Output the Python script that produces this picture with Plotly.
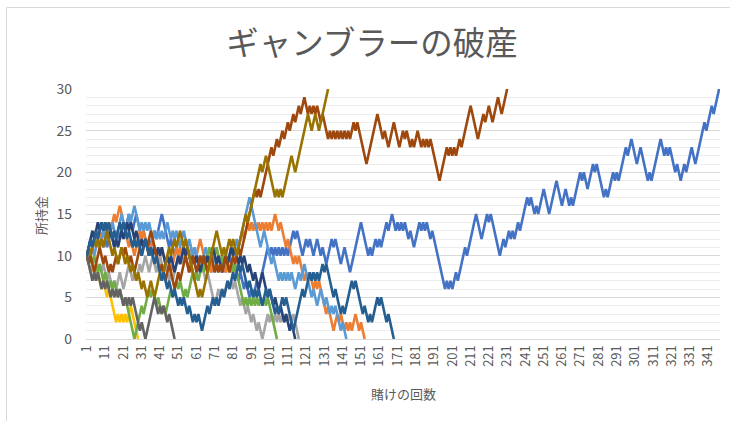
import plotly.graph_objects as go

# ---- data (money held after each bet) ----
blue = [10,11,12,11,12,13,12,13,12,11,
        12,11,12,13,12,11,12,13,12,13,
        14,13,14,15,14,13,14,15,14,13,
        12,13,12,11,12,11,12,13,12,13,
        14,15,14,13,12,11,12,11,10,11,
        10,9,10,11,10,9,8,9,8,7,
        8,9,8,9,10,9,8,9,8,9,
        8,9,10,9,8,9,8,9,10,9,
        8,9,8,7,8,7,6,7,6,5,
        6,5,6,7,6,7,8,9,10,11,
        10,11,10,11,10,11,10,11,10,11,
        10,11,12,13,12,13,12,11,10,11,
        12,11,12,11,10,11,12,11,10,11,
        10,9,10,11,12,11,12,11,10,9,
        10,11,10,9,8,9,10,11,12,13,
        14,13,12,11,10,11,10,11,12,11,
        12,11,12,13,14,13,14,15,14,13,
        14,13,14,13,14,13,12,13,12,11,
        12,13,14,13,14,13,14,13,12,13,
        12,11,10,9,8,7,6,7,6,7,
        6,7,8,7,8,9,10,11,10,11,
        12,13,14,15,14,13,12,13,14,15,
        14,15,14,13,12,11,10,11,12,11,
        12,13,12,13,12,13,14,13,14,15,
        16,17,16,17,16,15,16,15,16,17,
        18,17,16,15,16,17,18,19,18,17,
        16,17,18,17,16,17,16,17,18,19,
        20,19,20,19,18,19,20,21,20,21,
        20,19,18,17,18,17,18,19,20,19,
        20,19,20,21,22,23,22,23,24,23,
        22,21,22,23,22,21,20,19,20,19,
        20,21,22,23,24,23,22,23,22,23,
        22,21,20,21,20,19,20,21,20,21,
        22,23,22,21,22,23,24,25,26,25,
        26,27,28,27,28,29,30]

orange = [10,11,10,11,12,13,12,13,12,13,
          12,13,14,13,14,15,14,15,16,15,
          14,13,12,11,12,11,10,11,12,13,
          12,13,12,11,10,11,12,11,10,9,
          10,11,10,9,8,9,8,9,10,11,
          10,11,10,9,10,9,8,9,10,9,
          10,11,12,11,10,9,10,9,8,9,
          10,9,8,9,10,9,8,9,8,9,
          8,9,10,11,12,13,12,13,14,13,
          14,13,14,13,14,13,14,13,14,13,
          14,13,14,15,14,13,14,13,12,11,
          12,11,10,9,10,9,10,9,8,7,
          8,7,8,7,6,7,6,7,6,5,
          4,3,4,3,2,1,2,3,2,3,
          2,1,2,1,2,1,2,3,2,1,
          2,1,0]

gray = [10,9,8,9,8,7,8,9,8,9,
        8,7,8,7,6,7,6,7,8,7,
        6,7,8,9,8,7,8,7,8,9,
        8,9,10,9,8,9,10,9,8,9,
        10,9,8,9,8,7,8,7,8,9,
        10,9,10,9,10,11,10,11,10,11,
        10,9,10,9,8,7,8,7,6,5,
        4,5,6,5,6,5,6,7,6,7,
        6,7,6,5,4,5,4,3,4,3,
        2,3,2,1,2,1,0,1,2,3,
        2,3,2,3,2,3,2,3,2,3,
        2,3,2,3,2,1,0]

gold = [10,9,10,9,8,9,8,7,6,7,
        6,5,6,5,4,3,2,3,2,3,
        2,3,2,3,4,3,2,1,0]

lightblue = [10,11,12,11,10,11,12,11,12,13,
             12,13,12,13,14,13,12,13,14,15,
             14,13,14,15,14,15,16,15,14,13,
             14,13,14,13,14,13,12,13,12,13,
             12,13,12,13,14,13,12,13,12,13,
             12,11,12,13,12,11,12,11,10,11,
             10,9,10,9,10,11,10,9,10,9,
             10,9,8,9,10,9,10,9,10,11,
             10,11,12,11,12,13,14,15,16,17,
             16,15,14,13,12,11,12,13,12,11,
             10,9,10,9,8,7,8,7,8,7,
             8,7,8,7,6,7,8,7,8,9,
             8,7,6,5,6,5,4,5,6,5,
             4,5,4,3,4,3,4,3,2,1,
             2,1,0]

green = [10,9,10,9,10,9,8,9,8,7,
         8,7,6,7,6,7,6,5,6,5,
         4,5,4,3,2,1,0,1,2,3,
         4,3,4,5,6,5,6,5,4,5,
         4,3,4,3,4,5,6,5,6,7,
         6,7,6,5,6,5,6,7,8,7,
         8,7,8,9,8,9,10,11,10,11,
         10,11,10,9,10,9,10,9,8,9,
         8,9,8,7,6,5,4,5,4,5,
         4,5,4,5,4,5,4,5,4,5,
         4,3,2,1,0]

navy = [10,11,12,13,12,13,14,13,14,13,
        14,13,12,13,12,11,12,11,12,13,
        12,13,14,13,14,13,12,13,12,11,
        12,11,12,11,10,11,10,11,10,11,
        10,11,10,9,10,9,10,9,8,9,
        10,9,10,11,10,11,10,9,10,9,
        10,9,8,9,10,9,10,9,10,11,
        10,9,10,9,8,9,10,9,10,11,
        10,11,10,9,10,9,10,9,8,9,
        8,7,8,7,6,7,8,7,6,5,
        6,5,4,5,4,3,4,3,2,3,
        2,1,2,1,0]

brown = [10,9,10,9,8,9,10,11,10,9,
         10,9,8,9,8,9,10,9,10,11,
         10,11,10,9,10,9,8,9,10,11,
         10,11,12,11,12,13,12,11,10,9,
         8,9,8,7,8,9,8,7,6,7,
         8,7,8,9,10,9,8,9,10,9,
         8,9,10,9,10,9,8,9,10,9,
         8,9,8,9,8,9,10,9,8,9,
         10,9,10,11,10,11,12,13,14,15,
         16,17,18,17,18,17,18,19,20,21,
         22,23,22,23,24,23,24,25,24,25,
         26,25,26,27,26,27,28,27,28,29,
         28,27,28,27,28,27,28,27,26,27,
         26,25,24,25,24,25,24,25,24,25,
         24,25,24,25,24,25,26,25,26,25,
         24,23,22,21,22,23,24,25,26,27,
         26,25,24,25,24,23,24,25,26,25,
         24,23,24,25,24,25,24,23,24,23,
         24,25,24,23,24,23,24,23,24,23,
         22,21,20,19,20,21,22,23,22,23,
         22,23,22,23,24,23,24,25,26,27,
         28,27,26,25,24,25,26,27,26,27,
         28,27,26,27,28,29,28,27,28,29,
         30]

darkgray = [10,9,8,7,8,7,8,7,6,7,
            6,7,6,5,6,5,6,5,6,5,
            4,5,4,5,4,5,4,3,2,1,
            2,1,0,1,2,3,4,5,4,3,
            4,3,4,3,2,3,2,1,0]

olive = [10,11,10,11,12,11,12,11,12,11,
         12,13,12,11,10,11,10,9,10,11,
         10,9,10,9,8,9,8,7,8,7,
         6,7,6,5,6,7,6,5,6,7,
         8,7,8,9,10,11,10,11,12,11,
         12,13,12,11,12,11,10,9,8,7,
         6,5,6,5,6,7,8,9,10,11,
         12,13,12,11,10,11,10,11,12,11,
         12,11,10,11,12,13,14,15,14,15,
         16,17,18,19,20,21,20,21,22,21,
         20,19,18,17,18,17,18,17,18,19,
         20,21,22,21,20,21,22,23,24,25,
         26,27,26,25,26,27,26,25,26,27,
         28,29,30]

steel = [10,11,12,11,12,13,12,13,14,13,
         14,13,14,13,12,13,12,13,14,13,
         14,13,12,13,12,11,12,11,12,11,
         10,11,12,11,10,11,10,9,10,9,
         8,7,8,7,6,7,6,5,6,5,
         4,5,4,5,4,3,4,3,2,3,
         2,3,2,1,2,3,4,3,4,5,
         4,5,4,5,6,5,6,7,6,7,
         8,7,8,9,8,9,8,7,6,7,
         6,5,6,5,6,5,4,5,6,5,
         6,5,4,3,4,3,4,5,4,5,
         4,3,2,1,2,3,4,5,6,5,
         6,7,8,7,8,7,8,7,8,9,
         8,9,8,7,6,5,6,5,4,3,
         4,3,4,5,6,7,6,7,6,5,
         4,3,4,3,2,3,2,3,4,5,
         4,5,4,3,2,3,2,1,0]

n_rounds = max(len(s) for s in [blue, orange, gray, gold, lightblue, green,
                                 navy, brown, darkgray, olive, steel])
rounds = list(range(1, n_rounds + 1))
tick_rounds = rounds[::10]
tick_labels = [str(r) for r in tick_rounds]

series = [
    ("系列1", "#4472C4", blue),
    ("系列2", "#ED7D31", orange),
    ("系列3", "#A5A5A5", gray),
    ("系列4", "#FFC000", gold),
    ("系列5", "#5B9BD5", lightblue),
    ("系列6", "#70AD47", green),
    ("系列7", "#264478", navy),
    ("系列8", "#9E480E", brown),
    ("系列9", "#636363", darkgray),
    ("系列10", "#997300", olive),
    ("系列11", "#255E91", steel),
]

FONT = "Noto Sans CJK JP, Noto Sans, sans-serif"
TXT = "#595959"

fig = go.Figure()
for name, color, vals in series:
    fig.add_trace(go.Scatter(
        x=rounds[:len(vals)], y=vals, mode="lines", name=name,
        line=dict(color=color, width=2.6),
        hoverinfo="skip"))

L, R, T, B = 86, 10, 89, 82
W, H = 730, 421
pw, ph = W - L - R, H - T - B

def px(xpix):
    return (xpix - L) / pw

def py(ypix):
    return (H - B - ypix) / ph

fig.update_layout(
    width=W, height=H, autosize=False,
    margin=dict(l=L, r=R, t=T, b=B, pad=0),
    paper_bgcolor="white", plot_bgcolor="white",
    showlegend=False,
    font=dict(family=FONT, color=TXT),
    title=dict(text="ギャンブラーの破産", xref="container", yref="container",
               x=372 / W, y=1 - 44 / H, xanchor="center", yanchor="middle",
               font=dict(family=FONT, size=32.5, color=TXT)),
    xaxis=dict(range=[0.5, n_rounds + 0.5], tickmode="array",
               tickvals=tick_rounds, ticktext=tick_labels, tickangle=-90,
               tickfont=dict(size=13, color=TXT, family=FONT),
               showgrid=False, zeroline=False, showline=True,
               linecolor="#D9D9D9", linewidth=1, ticks=""),
    yaxis=dict(range=[0, 30], tickmode="array", tickvals=[0, 5, 10, 15, 20, 25, 30],
               tickfont=dict(size=14, color=TXT, family=FONT),
               showgrid=True, gridcolor="#D9D9D9", gridwidth=1,
               minor=dict(dtick=1, showgrid=True, gridcolor="#EDEDED", gridwidth=1),
               zeroline=False, showline=False, ticks="", ticklabelstandoff=13),
    annotations=[
        dict(text="所持金", xref="paper", yref="paper", x=px(40), y=py(215),
             textangle=-90, showarrow=False, xanchor="center", yanchor="middle",
             font=dict(size=13, color=TXT, family=FONT)),
        dict(text="賭けの回数", xref="paper", yref="paper", x=px(403), y=py(393),
             showarrow=False, xanchor="center", yanchor="middle",
             font=dict(size=13, color=TXT, family=FONT)),
    ],
    shapes=[
        dict(type="line", xref="paper", yref="paper", x0=px(6.5), x1=px(6.5),
             y0=py(7.5), y1=py(440), line=dict(color="#D9D9D9", width=1)),
        dict(type="line", xref="paper", yref="paper", x0=px(6.5), x1=px(760),
             y0=py(7.5), y1=py(7.5), line=dict(color="#D9D9D9", width=1)),
    ],
)

fig.write_html("out.html",
               config={"displayModeBar": False, "staticPlot": True},
               post_script="document.body.style.margin='0px';"
                           "document.body.style.overflow='hidden';")
